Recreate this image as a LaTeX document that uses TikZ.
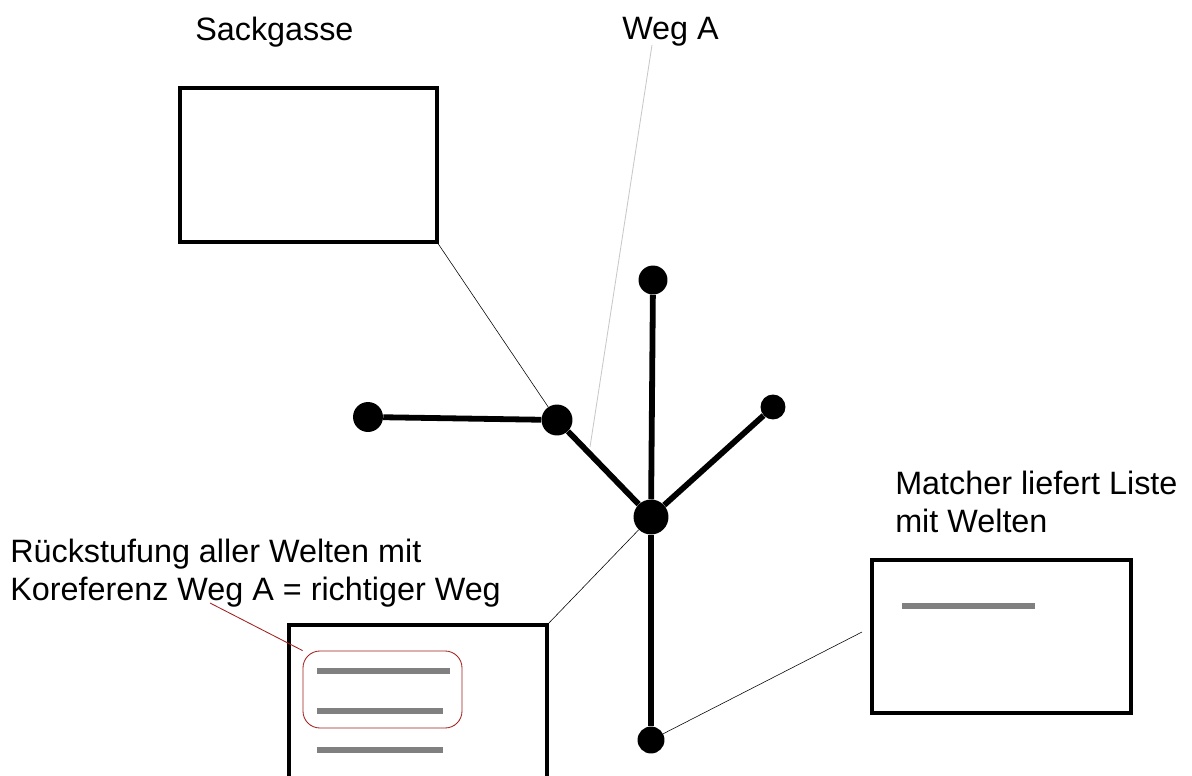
\documentclass[tikz,border=0pt]{standalone}
\usepackage{fontspec}
\setmainfont{Liberation Sans}
\definecolor{darkred}{RGB}{160,30,30}
\definecolor{lightgray}{RGB}{200,200,200}
\definecolor{bargray}{RGB}{128,128,128}

\begin{document}
\begin{tikzpicture}[x=0.025cm,y=-0.025cm]
    \useasboundingbox (0,0) rectangle (1192,776);
    \tikzset{
        dot/.style={circle,fill=black,inner sep=0pt},
        box/.style={draw,line width=1.2mm,minimum width=0pt},
        lbl/.style={anchor=west,inner sep=0pt,align=left,font=\fontsize{23}{26.5}\selectfont}
    }
    % labels
    \node[lbl] at (195,32) (sack) {Sackgasse};
    \node[lbl] at (622,32) (wega) {Weg A};
    \node[lbl] at (895,502) (match) {Matcher liefert Liste\\mit Welten};
    \node[lbl] at (10,573) (rueck) {R\"uckstufung aller Welten mit\\Koreferenz Weg A = richtiger Weg};

    % boxes
    \draw[box] (180,88) rectangle (437,242);
    \coordinate (sackbox) at (437,242);
    \draw[box] (289,625) rectangle (547,800);
    \coordinate (listbox) at (547,625);
    \draw[box] (872,560) rectangle (1131,713);
    \coordinate (matchbox) at (862,632);

    % tree
    \node[dot,minimum size=30pt*0.71] at (368,417) (l) {};
    \node[dot,minimum size=31pt*0.71] at (557,420) (m) {};
    \node[dot,minimum size=35pt*0.71] at (651,517) (c) {};
    \node[dot,minimum size=29pt*0.71] at (653,280) (t) {};
    \node[dot,minimum size=25pt*0.71] at (773,407) (r) {};
    \node[dot,minimum size=27pt*0.71] at (651,740) (b) {};

    \draw[line width=1.45mm] (l) -- (m);
    \draw[line width=1.45mm] (m) -- (c);
    \draw[line width=1.45mm] (c) -- (t);
    \draw[line width=1.45mm] (c) -- (r);
    \draw[line width=1.45mm] (c) -- (b);

    % pointers
    \coordinate (wegfoot) at (590,447);
    \draw[thin] (sackbox) -- (m);
    \draw[lightgray,semithick] (652,45) -- (wegfoot);
    \draw[thin] (listbox) -- (c);
    \draw[thin] (matchbox) -- (b);

    % list entries
    \node[draw=darkred,semithick,rounded corners=12pt,minimum width=159*0.025cm,minimum height=77*0.025cm] at (382.5,689.5) (group) {};
    \draw[bargray,line width=1.3mm] (317,671) -- (450,671);
    \draw[bargray,line width=1.3mm] (317,711) -- (443,711);
    \draw[bargray,line width=1.3mm] (317,750) -- (443,750);
    \draw[bargray,line width=1.3mm] (902,606) -- (1035,606);
    \draw[darkred,semithick] (210,603) -- (group.north west);
\end{tikzpicture}
\end{document}
